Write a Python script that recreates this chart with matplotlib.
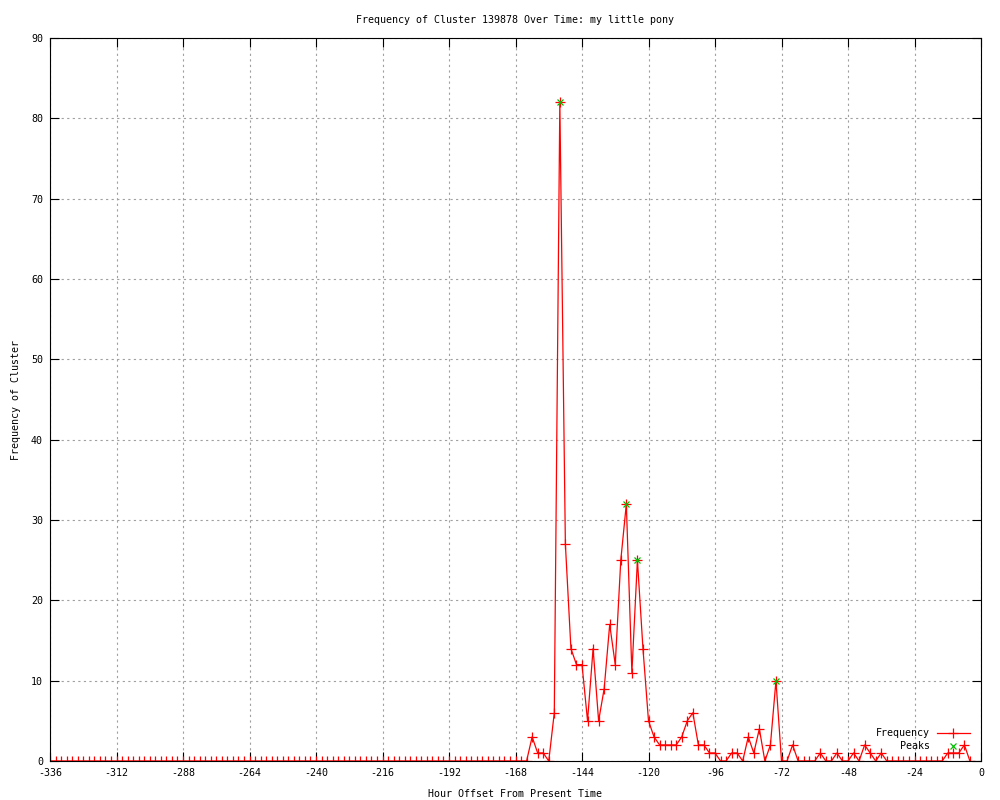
import numpy as np
import matplotlib
matplotlib.use("Agg")
import matplotlib.pyplot as plt

plt.rcParams['font.family'] = ['DejaVu Sans Mono']
plt.rcParams['axes.unicode_minus'] = False

# hourly bins, every 2 hours from -336 to -4
hours = np.arange(-336, -3, 2)

# frequency per bin
frequency = [
    0, 0, 0, 0, 0, 0, 0, 0, 0, 0, 0, 0, 0, 0, 0, 0, 0, 0, 0, 0,
    0, 0, 0, 0, 0, 0, 0, 0, 0, 0, 0, 0, 0, 0, 0, 0, 0, 0, 0, 0,
    0, 0, 0, 0, 0, 0, 0, 0, 0, 0, 0, 0, 0, 0, 0, 0, 0, 0, 0, 0,
    0, 0, 0, 0, 0, 0, 0, 0, 0, 0, 0, 0, 0, 0, 0, 0, 0, 0, 0, 0,
    0, 0, 0, 0, 0, 0, 0,
    3, 1, 1, 0, 6, 82, 27, 14, 12, 12,
    5, 14, 5, 9, 17, 12, 25, 32, 11, 25,
    14, 5, 3, 2, 2, 2, 2, 3, 5, 6,
    2, 2, 1, 1, 0, 0, 1, 1, 0, 3,
    1, 4, 0, 2, 10, 0, 0, 2, 0, 0,
    0, 0, 1, 0, 0, 1, 0, 0, 1, 0,
    2, 1, 0, 1, 0, 0, 0, 0, 0, 0,
    0, 0, 0, 0, 0, 1, 1, 1, 2, 0,
]

peak_hours = [-152, -128, -124, -74]
peak_values = [82, 32, 25, 10]

x_ticks = list(range(-336, 1, 24))
y_ticks = list(range(0, 91, 10))

fig = plt.figure(figsize=(10, 8), dpi=100)
ax = fig.add_axes([0.05, 0.04875, 0.931, 0.90375])

ax.plot(hours, frequency, color='#ff0000', linewidth=0.9, marker='+',
        markersize=6.5, markeredgewidth=0.9, label='Frequency')
ax.plot(peak_hours, peak_values, linestyle='none', color='#00c000', marker='x',
        markersize=5, markeredgewidth=0.9, label='Peaks')

ax.set_xlim(-336, 0)
ax.set_ylim(0, 90)
ax.set_xticks(x_ticks)
ax.set_yticks(y_ticks)
ax.tick_params(direction='in', length=6.5, width=0.8, top=True, right=True,
               labelsize=7.2, pad=5, colors='black')
ax.grid(True, color='#a0a0a0', linestyle=(0, (2, 3)), linewidth=0.8)
for s in ax.spines.values():
    s.set_linewidth(0.8)

ax.set_title('Frequency of Cluster 139878 Over Time: my little pony', fontsize=7.2, pad=11)
ax.set_xlabel('Hour Offset From Present Time', fontsize=7.2, labelpad=8)
ax.set_ylabel('Frequency of Cluster', fontsize=7.2, labelpad=7)

ax.legend(loc='lower right', bbox_to_anchor=(0.988, 0.0135), frameon=False,
          markerfirst=False, fontsize=7.2, handlelength=3.3, handletextpad=0.7,
          labelspacing=0.3, borderpad=0, borderaxespad=0)

fig.savefig('out.png', dpi=100)
